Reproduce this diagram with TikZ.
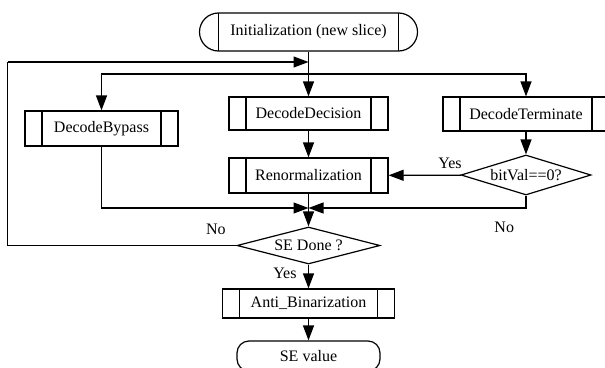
\documentclass[tikz,border=0pt]{standalone}
\usepackage{fontspec}
\setmainfont{Liberation Serif}
\usetikzlibrary{
    arrows.meta,
    calc,
    shapes.geometric,
    shapes.misc
}
\tikzset{
    every picture/.style = {
        > = {Triangle[length = 15pt, width = 11pt]},
        line width = 1.2pt
    },
    process/.style = {
        draw,
        rectangle,
        inner sep = 0pt,
        minimum height = 34pt,
        path picture = {
            \draw ([xshift = 17pt]path picture bounding box.north west)
                -- ([xshift = 17pt]path picture bounding box.south west);
            \draw ([xshift = -17pt]path picture bounding box.north east)
                -- ([xshift = -17pt]path picture bounding box.south east);
        }
    },
    terminal/.style = {
        draw,
        rounded rectangle,
        inner sep = 0pt,
        minimum height = 38pt,
        path picture = {
            \draw ([xshift = 19pt]path picture bounding box.north west)
                -- ([xshift = 19pt]path picture bounding box.south west);
            \draw ([xshift = -19pt]path picture bounding box.north east)
                -- ([xshift = -19pt]path picture bounding box.south east);
        }
    },
    endterm/.style = {
        draw,
        rectangle,
        rounded corners = 12pt,
        minimum width = 143pt,
        minimum height = 30pt
    },
    decision/.style = {
        draw,
        diamond,
        inner sep = 0pt,
        aspect = 3.4
    }
}

\begin{document}
\begin{tikzpicture}[x = 1pt, y = -1pt, font = \fontsize{16}{19}\selectfont]
    \useasboundingbox (0, 0) rectangle (605, 367);

    \node[terminal, minimum width = 218pt] (init) at (308.5, 32) {Initialization (new slice)};
    \node[process, minimum width = 153pt, minimum height = 35pt] (bypass) at (101.5, 128.5) {DecodeBypass};
    \node[process, minimum width = 159pt, minimum height = 33pt] (decision) at (308.5, 113.5) {DecodeDecision};
    \node[process, minimum width = 166pt] (terminate) at (526, 114) {DecodeTerminate};
    \node[process, minimum width = 159pt, minimum height = 35pt] (renorm) at (308.5, 175.5) {Renormalization};
    \node[decision, minimum width = 130pt, minimum height = 40pt] (bitval) at (526, 175) {bitVal==0?};
    \node[decision, minimum width = 143pt, minimum height = 37pt] (done) at (308.5, 245.5) {SE Done ?};
    \node[process, minimum width = 172pt, minimum height = 29pt] (antibin) at (308.5, 303.5) {Anti\_Binarization};
    \node[endterm] (value) at (308.5, 356) {SE value};

    \coordinate (back) at (308.5, 62);
    \coordinate (split) at (308.5, 74);
    \coordinate (merge) at (308.5, 208);
    \coordinate (corner) at (7.5, 245.5);
    \coordinate (turn) at (7.5, 62);

    % fan out
    \draw (init) -- (split);
    \draw[->] (split) -- (decision);
    \draw[->] (split) -| (bypass);
    \draw[->] (split) -| (terminate);
    \draw[->] (decision) -- (renorm);
    \draw[->] (terminate) -- (bitval);
    \draw[->] (bitval) -- node[pos = 0.15, above = 3pt] {Yes} (renorm);

    % merge
    \draw (renorm) -- (merge);
    \draw[->] (bypass) |- (merge);
    \draw[->] (bitval) |- node[pos = 0.55, below = 10pt] {No} (merge);
    \draw[->] (merge) -- (done);

    % loop back / finish
    \draw (done.west) -- node[pos = 0.09, above = 7pt] {No} (corner) -- (turn);
    \draw[->] (turn) -- (back);
    \draw[->] (done) -- node[pos = 0.35, left = 8pt] {Yes} (antibin);
    \draw[->] (antibin) -- (value);
\end{tikzpicture}
\end{document}
